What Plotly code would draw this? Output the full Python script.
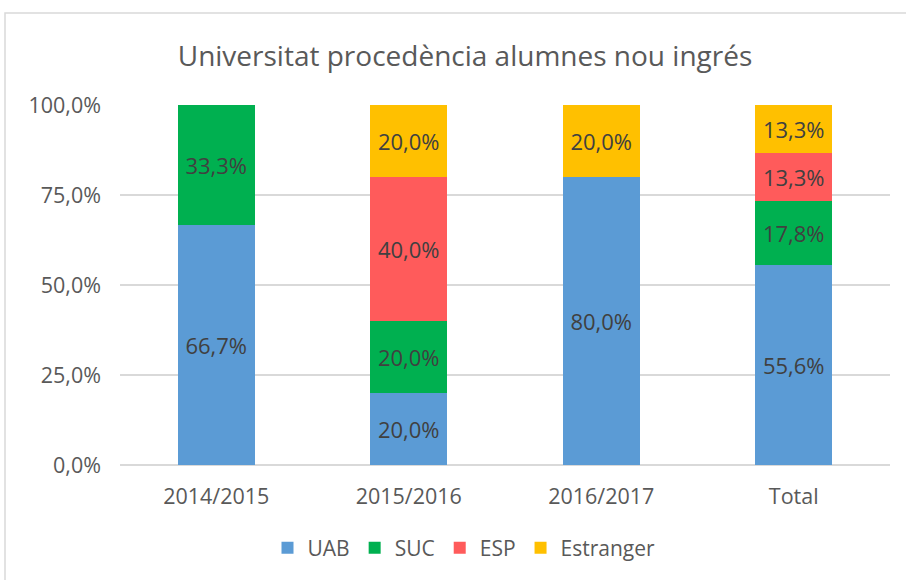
import plotly.graph_objects as go

categories = ["2014/2015", "2015/2016", "2016/2017", "Total"]
uab = [66.7, 20.0, 80.0, 55.6]
suc = [33.3, 20.0, 0.0, 17.8]
esp = [0.0, 40.0, 0.0, 13.3]
estranger = [0.0, 20.0, 20.0, 13.3]
y_ticks = [0, 25, 50, 75, 100]

series = [
    ("UAB", uab, "#5B9BD5"),
    ("SUC", suc, "#00B050"),
    ("ESP", esp, "#FF5B5B"),
    ("Estranger", estranger, "#FFC000"),
]

FONT = "Open Sans, sans-serif"

def pct(v):
    return f"{v:.1f}%".replace(".", ",")

fig = go.Figure()
for name, vals, color in series:
    labels = [pct(v) if v else "" for v in vals]
    fig.add_trace(go.Bar(
        x=categories, y=vals, name=name,
        marker=dict(color=color, line=dict(width=0)),
        text=labels, textposition="inside", insidetextanchor="middle",
        textfont=dict(color="#404040", size=22, family=FONT),
        textangle=0, hoverinfo="skip",
    ))

# chart frame like in Excel
L, R, T, B = 120, 16, 105, 115
W, H = 906, 580
pw, ph = W - L - R, H - T - B
def px_x(p): return (p - L) / pw
def px_y(p): return (H - B - p) / ph

fig.add_shape(type="rect", xref="paper", yref="paper",
              x0=px_x(5), x1=px_x(920), y0=px_y(600), y1=px_y(13),
              line=dict(color="#D9D9D9", width=1.5), fillcolor="rgba(0,0,0,0)",
              layer="below")

fig.update_layout(
    width=W, height=H,
    margin=dict(l=L, r=R, t=T, b=B, autoexpand=False),
    barmode="stack", bargap=0.6,
    paper_bgcolor="white", plot_bgcolor="white",
    font=dict(family=FONT, color="#595959", size=21),
    title=dict(text="Universitat procedència alumnes nou ingrés",
               x=465 / W, xref="container", xanchor="center",
               y=1 - 56 / H, yanchor="middle",
               font=dict(size=28, color="#595959", family=FONT)),
    xaxis=dict(showgrid=False, ticks="", showline=False, automargin=False,
               tickfont=dict(size=21.5, color="#595959"), ticklabelstandoff=16),
    yaxis=dict(range=[0, 100], tickvals=y_ticks,
               ticktext=[pct(v) for v in y_ticks], automargin=False,
               gridcolor="#D9D9D9", gridwidth=1.5, zeroline=True,
               zerolinecolor="#D9D9D9", zerolinewidth=1.5,
               tickfont=dict(size=21.5, color="#595959"), ticklabelstandoff=18),
    legend=dict(orientation="h", x=464 / W, xref="container", xanchor="center",
                y=1 - 548 / H, yref="container", yanchor="middle",
                font=dict(size=21, color="#595959"), itemwidth=30,
                traceorder="normal"),
    showlegend=True,
)

# the page body has a default 8px margin; drop it so pixel positions line up
fig.write_html("out.html", config={"displayModeBar": False},
               post_script="document.body.style.margin='0';")
